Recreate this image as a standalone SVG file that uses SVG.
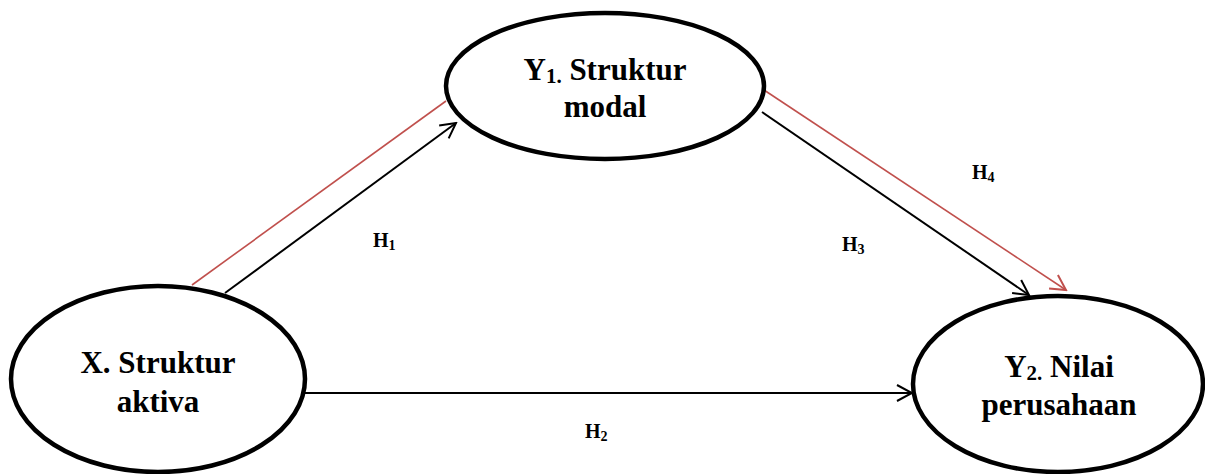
<svg xmlns="http://www.w3.org/2000/svg" width="1205" height="474" viewBox="0 0 1205 474">
<defs>
<marker id="ab" markerUnits="userSpaceOnUse" viewBox="-17 -10 19 20" markerWidth="19" markerHeight="20" refX="0" refY="0" orient="auto">
<path d="M-15,-8 L0,0 L-15,8" fill="none" stroke="#000" stroke-width="2"/>
</marker>
<marker id="ar" markerUnits="userSpaceOnUse" viewBox="-17 -10 19 20" markerWidth="19" markerHeight="20" refX="0" refY="0" orient="auto">
<path d="M-15,-8 L0,0 L-15,8" fill="none" stroke="#C0504D" stroke-width="2"/>
</marker>
</defs>
<style>
.node{fill:#fff;stroke:#000;stroke-width:4.5}
.t{font-family:"Liberation Serif","Times New Roman",serif;font-weight:bold;font-size:31px;fill:#000;text-anchor:middle}
.s{font-size:21px}
.h{font-family:"Liberation Serif","Times New Roman",serif;font-weight:bold;font-size:20px;fill:#000}
.hs{font-size:14px}
.bl{stroke:#000;stroke-width:2;fill:none}
.rd{stroke:#C0504D;stroke-width:1.6;fill:none}
</style>
<rect width="1205" height="474" fill="#fff"/>
<g id="connectors">
<line class="rd" x1="192" y1="285" x2="446" y2="101"/>
<line class="bl" x1="225" y1="293" x2="456" y2="123" marker-end="url(#ab)"/>
<line class="bl" x1="762" y1="112" x2="1029" y2="295" marker-end="url(#ab)"/>
<line class="rd" x1="764" y1="90" x2="1066" y2="290" marker-end="url(#ar)"/>
<line class="bl" x1="305" y1="393" x2="912" y2="393" marker-end="url(#ab)"/>
<text class="h" x="373" y="247">H<tspan class="hs" dy="3">1</tspan></text>
<text class="h" x="585" y="438">H<tspan class="hs" dy="3">2</tspan></text>
<text class="h" x="842" y="251">H<tspan class="hs" dy="3">3</tspan></text>
<text class="h" x="972" y="179">H<tspan class="hs" dy="3">4</tspan></text>
</g>
<g id="node-y1">
<ellipse class="node" cx="605" cy="86" rx="159" ry="73"/>
<text class="t" x="605" y="80">Y<tspan class="s" dy="3">1.</tspan><tspan dy="-3"> Struktur</tspan></text>
<text class="t" x="605" y="117">modal</text>
</g>
<g id="node-x">
<ellipse class="node" cx="158" cy="379" rx="147" ry="93"/>
<text class="t" x="158" y="373">X. Struktur</text>
<text class="t" x="158" y="412">aktiva</text>
</g>
<g id="node-y2">
<ellipse class="node" cx="1058" cy="384" rx="145" ry="88"/>
<text class="t" x="1059" y="377">Y<tspan class="s" dy="3">2.</tspan><tspan dy="-3"> Nilai</tspan></text>
<text class="t" x="1059" y="415">perusahaan</text>
</g>
</svg>
